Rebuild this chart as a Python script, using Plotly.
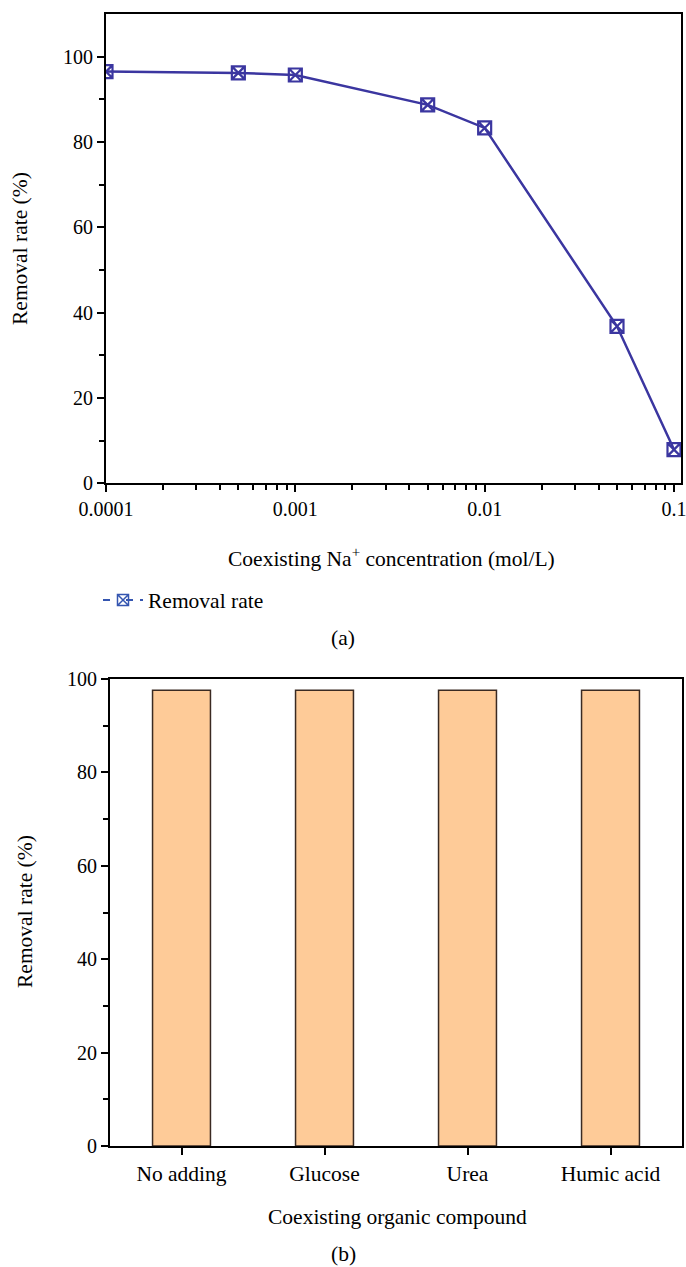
import plotly.graph_objects as go

# Panel (a) data
na_conc = [0.0001, 0.0005, 0.001, 0.005, 0.01, 0.05, 0.1]
removal_a = [96.5, 96.2, 95.7, 88.7, 83.3, 36.8, 7.9]
x_tickvals_a = [0.0001, 0.001, 0.01, 0.1]
x_ticktext_a = ["0.0001", "0.001", "0.01", "0.1"]

# Panel (b) data
compounds = ["No adding", "Glucose", "Urea", "Humic acid"]
removal_b = [97.6, 97.6, 97.6, 97.6]

W, H = 686, 1267
FONT = "Liberation Serif"
FS_NUM = 20
FS_TXT = 21.5
LINE_C = "#3b36a0"

def px_x(p):
    return p / W

def px_y(p):
    return 1 - p / H

fig = go.Figure()

fig.add_trace(go.Scatter(
    x=na_conc, y=removal_a, mode="lines+markers",
    line=dict(color=LINE_C, width=2.5),
    marker=dict(symbol="square-x-open", size=13, color=LINE_C, line=dict(width=2.2, color=LINE_C)),
    showlegend=False, xaxis="x", yaxis="y",
))
# legend entry
fig.add_trace(go.Scatter(
    x=[None], y=[None], mode="lines+markers", name="Removal rate",
    line=dict(color="#3455b0", width=2, dash="7px,16px,7px"),
    marker=dict(symbol="square-x-open", size=11, color="#3455b0", line=dict(width=1.5)),
    showlegend=True, xaxis="x", yaxis="y",
))

fig.add_trace(go.Bar(
    x=compounds, y=removal_b, width=0.405,
    marker=dict(color="#fecb98", line=dict(color="#3a2a22", width=1.5)),
    showlegend=False, xaxis="x2", yaxis="y2",
))

minor_log = []
for dec in [0.0001, 0.001, 0.01]:
    for k in range(2, 10):
        minor_log.append(dec * k)

axis_common = dict(
    showline=True, linecolor="black", linewidth=2, mirror=True,
    ticks="outside", tickcolor="black", tickwidth=2, ticklen=7,
    showgrid=False, zeroline=False, automargin=False,
    ticklabeloverflow="allow",
)
num_font = dict(family=FONT, size=FS_NUM, color="black")
txt_font = dict(family=FONT, size=FS_TXT, color="black")
minor_y = dict(tickmode="array", tickvals=[10, 30, 50, 70, 90], ticks="outside", ticklen=5, tickwidth=2, tickcolor="black")

fig.update_layout(
    width=W, height=H,
    margin=dict(l=0, r=0, t=0, b=0, autoexpand=False),
    paper_bgcolor="white", plot_bgcolor="white",
    font=dict(family=FONT, size=FS_TXT, color="black"),
    xaxis=dict(
        domain=[px_x(106), px_x(681)], anchor="y", type="log",
        range=[-4, -0.963],
        tickmode="array", tickvals=x_tickvals_a, ticktext=x_ticktext_a,
        minor=dict(tickmode="array", tickvals=minor_log, ticks="outside", ticklen=5, tickwidth=2, tickcolor="black"),
        tickfont=num_font,
        **axis_common,
    ),
    yaxis=dict(
        domain=[px_y(483.3), px_y(14)], anchor="x",
        range=[0, 110], tickmode="array", tickvals=[0, 20, 40, 60, 80, 100],
        minor=minor_y, tickfont=num_font,
        **axis_common,
    ),
    xaxis2=dict(
        domain=[px_x(110), px_x(682)], anchor="y2",
        range=[-0.5, 3.5], tickfont=txt_font,
        **axis_common,
    ),
    yaxis2=dict(
        domain=[px_y(1146), px_y(679)], anchor="x2",
        range=[0, 100], tickmode="array", tickvals=[0, 20, 40, 60, 80, 100],
        minor=minor_y, tickfont=num_font,
        **axis_common,
    ),
    legend=dict(
        x=px_x(98), y=px_y(600), xanchor="left", yanchor="middle",
        bgcolor="rgba(0,0,0,0)", font=txt_font,
        itemwidth=40,
    ),
)

ann = dict(xref="paper", yref="paper", showarrow=False, font=txt_font)
fig.add_annotation(text="Coexisting Na<sup>+</sup> concentration (mol/L)", x=px_x(391), y=px_y(557), xanchor="center", yanchor="middle", **ann)
fig.add_annotation(text="Removal rate (%)", x=px_x(20), y=px_y(249), xanchor="center", yanchor="middle", textangle=-90, **ann)
fig.add_annotation(text="(a)", x=px_x(343), y=px_y(638), xanchor="center", yanchor="middle", **ann)
fig.add_annotation(text="Coexisting organic compound", x=px_x(397), y=px_y(1217), xanchor="center", yanchor="middle", **ann)
fig.add_annotation(text="Removal rate (%)", x=px_x(25), y=px_y(912), xanchor="center", yanchor="middle", textangle=-90, **ann)
fig.add_annotation(text="(b)", x=px_x(343), y=px_y(1254), xanchor="center", yanchor="middle", **ann)

fig.write_html(
    "out.html",
    config={"displayModeBar": False},
    post_script="document.body.style.margin='0';document.body.style.overflow='hidden';",
)
